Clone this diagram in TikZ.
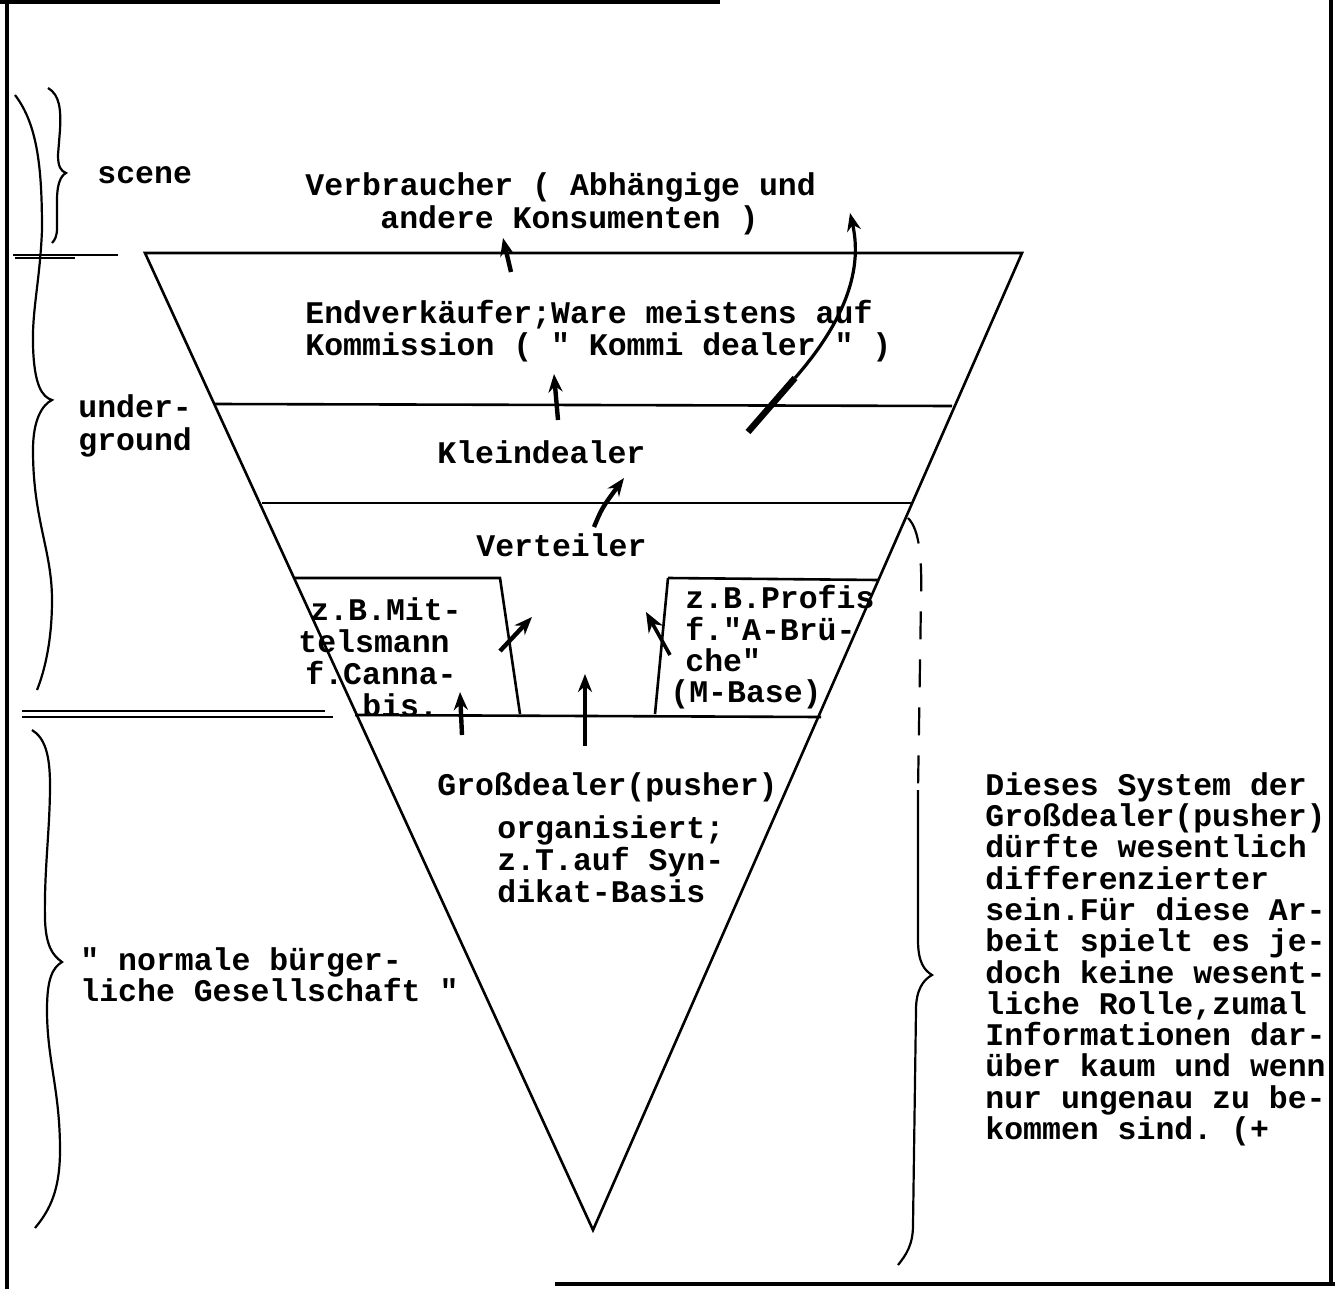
\documentclass[tikz,border=0pt]{standalone}
\usepackage{fontspec}
\setmonofont{Liberation Mono}
\usetikzlibrary{arrows.meta}
\tikzset{
  tw/.style={font=\ttfamily\bfseries\fontsize{15.75}{15.5}\selectfont, inner sep=0pt, anchor=base west},
  frameline/.style={line width=2pt},
  struct/.style={line width=1.3pt},
  flow/.style={line width=2.2pt, -{Stealth[length=9pt,width=7pt]}},
  brace/.style={line width=1.1pt},
}
\begin{document}
\begin{tikzpicture}[x=0.5pt,y=-0.5pt]
\useasboundingbox (0,0) rectangle (1338,1289);

% frame
\draw[frameline] (0,2) -- (720,2);
\draw[frameline] (7,0) -- (7,1289);
\draw[frameline] (1331,0) -- (1331,1284);
\draw[frameline] (555,1284) -- (1335,1284);

% triangle
\coordinate (TL) at (145,253);
\coordinate (TR) at (1022,253);
\coordinate (AP) at (593,1230);
\draw[struct] (TL) -- (TR) -- (AP) -- cycle;
\draw[struct] (13,255) -- (118,255);
\draw[struct] (15,258) -- (75,258);

% layer lines
\draw[struct] (214,404) -- (952,406);
\draw[struct] (262,503) -- (912,503);
\draw[struct] (295,578) -- (500,578) -- (520,714);
\draw[struct] (668,578) -- (878,580);
\draw[struct] (668,578) -- (655,714);
\draw[struct] (355,715) -- (821,717);
\draw[struct] (22,711) -- (325,711);
\draw[struct] (22,717) -- (333,717);

% texts
\node[tw] (scene) at (97,184) {scene};
\node[tw] (verb1) at (305,196) {Verbraucher ( Abhängige und};
\node[tw] (verb2) at (380,228) {andere Konsumenten )};
\node[tw] (end1) at (305,323) {Endverkäufer;Ware meistens auf};
\node[tw] (end2) at (305,355) {Kommission ( " Kommi dealer " )};
\node[tw] (ug1) at (78,417) {under-};
\node[tw] (ug2) at (78,450) {ground};
\node[tw] (klein) at (437,463) {Kleindealer};
\node[tw] (vert) at (476,556) {Verteiler};
\node[tw] (mit1) at (310,620) {z.B.Mit-};
\node[tw] (mit2) at (298,652) {telsmann};
\node[tw] (mit3) at (305,684) {f.Canna-};
\begin{scope}
\clip (340,690) rectangle (460,714);
\node[tw] (mit4) at (362,716) {bis.};
\end{scope}
\node[tw] (pro1) at (685,608) {z.B.Profis};
\node[tw] (pro2) at (685,640) {f."A-Brü-};
\node[tw] (pro3) at (685,671) {che"};
\node[tw] (pro4) at (670,702) {(M-Base)};
\node[tw] (gross) at (437,795) {Großdealer(pusher)};
\node[tw] (org1) at (497,838) {organisiert;};
\node[tw] (org2) at (497,870) {z.T.auf Syn-};
\node[tw] (org3) at (497,902) {dikat-Basis};
\node[tw] (norm1) at (80,970) {" normale bürger-};
\node[tw] (norm2) at (80,1001) {liche Gesellschaft "};

\node[tw] (r1) at (985,795) {Dieses System der};
\node[tw] (r2) at (985,826) {Großdealer(pusher)};
\node[tw] (r3) at (985,857) {dürfte wesentlich};
\node[tw] (r4) at (985,889) {differenzierter};
\node[tw] (r5) at (985,920) {sein.Für diese Ar-};
\node[tw] (r6) at (985,951) {beit spielt es je-};
\node[tw] (r7) at (985,983) {doch keine wesent-};
\node[tw] (r8) at (985,1014) {liche Rolle,zumal};
\node[tw] (r9) at (985,1045) {Informationen dar-};
\node[tw] (r10) at (985,1076) {über kaum und wenn};
\node[tw] (r11) at (985,1108) {nur ungenau zu be-};
\node[tw] (r12) at (985,1139) {kommen sind. (+};

% flow arrows
\coordinate (a1s) at (511,272); \coordinate (a1e) at (503,238);
\draw[flow] (a1s) -- (a1e);
\coordinate (a2s) at (558,420); \coordinate (a2e) at (554,374);
\draw[flow] (a2s) -- (a2e);
\coordinate (a3s) at (594,527); \coordinate (a3e) at (624,478);
\draw[flow] (a3s) .. controls (602,508) .. (a3e);
\coordinate (a4s) at (748,432); \coordinate (a4m) at (795,378); \coordinate (a4e) at (850,213);
\draw[line width=3.2pt] (a4s) -- (a4m);
\draw[flow, line width=1.6pt] (a4m) .. controls (830,338) and (866,282) .. (a4e);
\coordinate (a5s) at (500,651); \coordinate (a5e) at (532,617);
\draw[flow] (a5s) -- (a5e);
\coordinate (a6s) at (462,735); \coordinate (a6e) at (460,692);
\draw[flow] (a6s) -- (a6e);
\coordinate (a7s) at (585,746); \coordinate (a7e) at (585,674);
\draw[flow] (a7s) -- (a7e);
\coordinate (a8s) at (670,655); \coordinate (a8e) at (646,612);
\draw[line width=1.8pt, -{Stealth[open,length=10pt,width=8pt]}] (a8s) -- (a8e);

% braces
\draw[brace] (48,88) .. controls (60,95) and (61,110) .. (60,130)
  -- (58,155) .. controls (58,167) and (61,171) .. (66,173)
  .. controls (60,176) and (57,186) .. (57,200)
  -- (57,228) .. controls (57,236) and (55,240) .. (52,243);
\draw[brace] (15,95) .. controls (38,125) and (42,170) .. (42,230)
  .. controls (40,280) and (32,310) .. (33,345)
  .. controls (34,385) and (42,397) .. (52,400)
  .. controls (42,405) and (33,420) .. (33,450)
  .. controls (33,520) and (52,550) .. (52,600)
  .. controls (52,640) and (45,670) .. (37,690);
\draw[brace] (32,730) .. controls (45,738) and (50,755) .. (50,785)
  .. controls (50,830) and (44,870) .. (45,920)
  .. controls (46,945) and (52,955) .. (62,962)
  .. controls (52,968) and (47,980) .. (47,1010)
  .. controls (47,1060) and (60,1090) .. (60,1150)
  .. controls (60,1190) and (50,1210) .. (35,1228);
\draw[brace, dash pattern=on 14pt off 10pt] (908,518) .. controls (920,530) and (922,560) .. (921,600) -- (918,790);
\draw[brace] (918,790) -- (918,940) .. controls (918,962) and (924,970) .. (932,975)
  .. controls (923,980) and (916,990) .. (916,1010)
  -- (913,1225) .. controls (913,1245) and (906,1255) .. (898,1265);
\end{tikzpicture}
\end{document}
